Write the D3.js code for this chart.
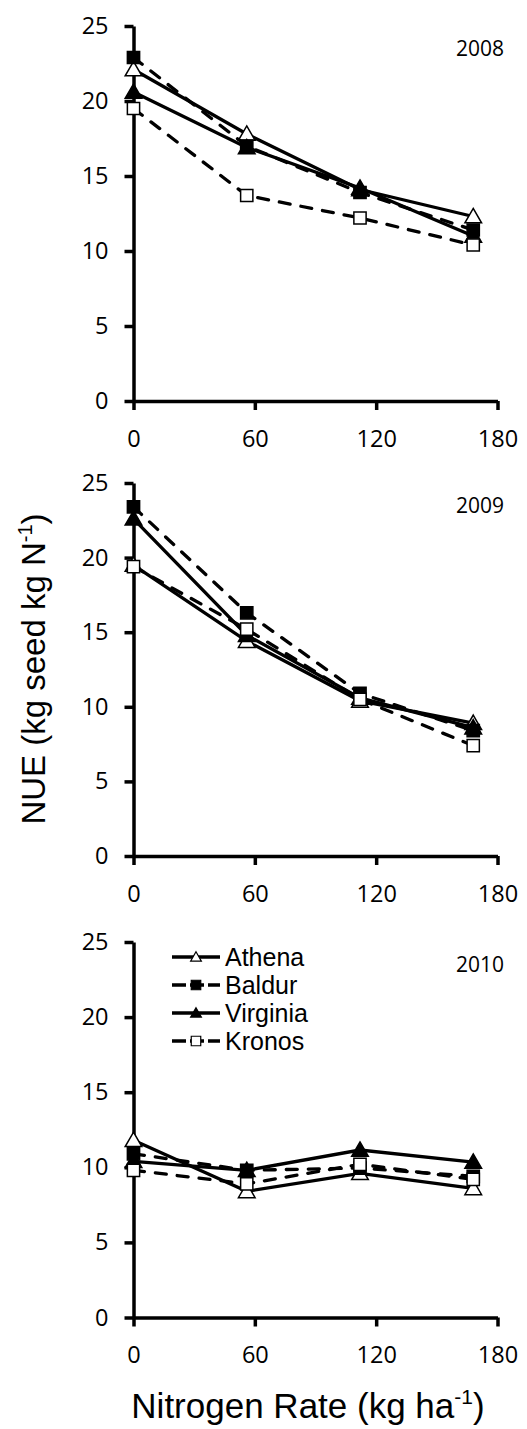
<!DOCTYPE html>
<meta charset="utf-8">
<html>
<head>
	<script src="https://d3js.org/d3.v7.min.js"></script>
	<style>
		body { margin: 0; background: #fff; }
		.tick text { font-family: "Open Sans", sans-serif; font-size: 23.5px; fill: #000; }
	</style>
</head>
<body>
<div id="chart"></div>
<script>

// nitrogen rates (x) and the cultivars
var rates = [0, 56, 112, 168];
var years = ["2008", "2009", "2010"];
var cultivars = ["Athena", "Baldur", "Virginia", "Kronos"];
var xTicks = [0, 60, 120, 180];
var yTicks = [0, 5, 10, 15, 20, 25];

// NUE per cultivar, one row per year (2008, 2009, 2010)
var athena   = [[22.1, 17.8, 14.1, 12.3], [19.5, 14.4, 10.4, 8.9], [11.8, 8.4, 9.6, 8.6]];
var baldur   = [[22.9, 17.0, 13.9, 11.4], [23.4, 16.3, 10.9, 8.4], [10.9, 9.8, 9.95, 9.4]];
var virginia = [[20.6, 16.9, 14.2, 11.0], [22.6, 14.8, 10.6, 8.6], [10.4, 9.8, 11.15, 10.35]];
var kronos   = [[19.5, 13.7, 12.2, 10.4], [19.4, 15.2, 10.5, 7.4], [9.8, 8.9, 10.2, 9.2]];

var seriesVals = [athena, baldur, virginia, kronos];
var dashed = [false, true, false, true];
var symType = [d3.symbolTriangle, d3.symbolSquare, d3.symbolTriangle, d3.symbolSquare];
var filled = [false, true, true, false];

var W = 527, H = 1429;
var svg = d3.select("#chart").append("svg")
	.attr("width", W)
	.attr("height", H);

var x = d3.scaleLinear().domain([0, 180]).range([133.5, 497.5]);

// panel vertical extents (top of 25, y of 0)
var panels = [[26, 401], [483, 856], [942, 1317.5]];

function symbolFor(i, big) {
	var a = symType[i] === d3.symbolTriangle ? (big ? 120 : 50) : (big ? 150 : 90);
	return d3.symbol().type(symType[i]).size(a)();
}

panels.forEach(function(p, k) {
	var y = d3.scaleLinear().domain([0, 25]).range([p[1], p[0]]);
	var g = svg.append("g");

	var yAx = g.append("g")
		.attr("transform", "translate(" + x(0) + ",0)")
		.call(d3.axisLeft(y).tickValues(yTicks).tickSize(9).tickSizeOuter(0).tickPadding(16));
	var xAx = g.append("g")
		.attr("transform", "translate(0," + p[1] + ")")
		.call(d3.axisBottom(x).tickValues(xTicks).tickSize(9).tickSizeOuter(0).tickPadding(20));
	[yAx, xAx].forEach(function(a) {
		a.select(".domain").attr("stroke", "#000").attr("stroke-width", 3.5);
		a.selectAll(".tick line").attr("stroke", "#000").attr("stroke-width", 3.5);
	});

	var line = d3.line()
		.x(function(d, i) { return x(rates[i]); })
		.y(function(d) { return y(d); });

	seriesVals.forEach(function(s, i) {
		var vals = s[k];
		g.append("path")
			.datum(vals)
			.attr("d", line)
			.attr("fill", "none")
			.attr("stroke", "#000")
			.attr("stroke-width", 3.3)
			.attr("stroke-linecap", dashed[i] ? "round" : "butt")
			.attr("stroke-dasharray", dashed[i] ? "11,11" : null);
		g.selectAll(null)
			.data(vals)
			.enter()
			.append("path")
			.attr("d", symbolFor(i, true))
			.attr("transform", function(d, j) {
				var dy = symType[i] === d3.symbolTriangle ? 1.5 : 0;
				return "translate(" + x(rates[j]) + "," + (y(d) + dy) + ")";
			})
			.attr("fill", filled[i] ? "#000" : "#fff")
			.attr("stroke", "#000")
			.attr("stroke-width", 1.5);
	});

	g.append("text")
		.attr("x", 504)
		.attr("y", p[0] + 30)
		.attr("text-anchor", "end")
		.style("font-family", "Open Sans, sans-serif")
		.style("font-size", "21px")
		.text(years[k]);

	// legend only in the last panel
	if (k === 2) {
		var lg = g.append("g");
		cultivars.forEach(function(c, i) {
			var ry = 957 + i * 28;
			lg.append("line")
				.attr("x1", 172).attr("x2", 220)
				.attr("y1", ry).attr("y2", ry)
				.attr("stroke", "#000")
				.attr("stroke-width", 3.3)
				.attr("stroke-dasharray", dashed[i] ? "14,4" : null);
			lg.append("path")
				.attr("d", symbolFor(i, false))
				.attr("transform", "translate(196," + (ry + (symType[i] === d3.symbolTriangle ? 1 : 0)) + ")")
				.attr("fill", filled[i] ? "#000" : "#fff")
				.attr("stroke", "#000")
				.attr("stroke-width", 1.2);
			lg.append("text")
				.attr("x", 225)
				.attr("y", ry + 9)
				.style("font-family", "Liberation Sans, Arial, sans-serif")
				.style("font-size", "25px")
				.text(c);
		});
	}
});

// axis titles
var yt = svg.append("text")
	.attr("transform", "translate(45,669) rotate(-90)")
	.attr("text-anchor", "middle")
	.style("font-family", "Liberation Sans, Arial, sans-serif")
	.style("font-size", "33px");
yt.append("tspan").text("NUE  (kg seed kg N");
yt.append("tspan").attr("dy", -13).style("font-size", "20px").text("-1");
yt.append("tspan").attr("dy", 13).text(")");

var xt = svg.append("text")
	.attr("x", 308)
	.attr("y", 1418)
	.attr("text-anchor", "middle")
	.style("font-family", "Liberation Sans, Arial, sans-serif")
	.style("font-size", "35px");
xt.append("tspan").text("Nitrogen Rate (kg ha");
xt.append("tspan").attr("dy", -14).style("font-size", "21px").text("-1");
xt.append("tspan").attr("dy", 14).text(")");

</script>
</body>
</html>
